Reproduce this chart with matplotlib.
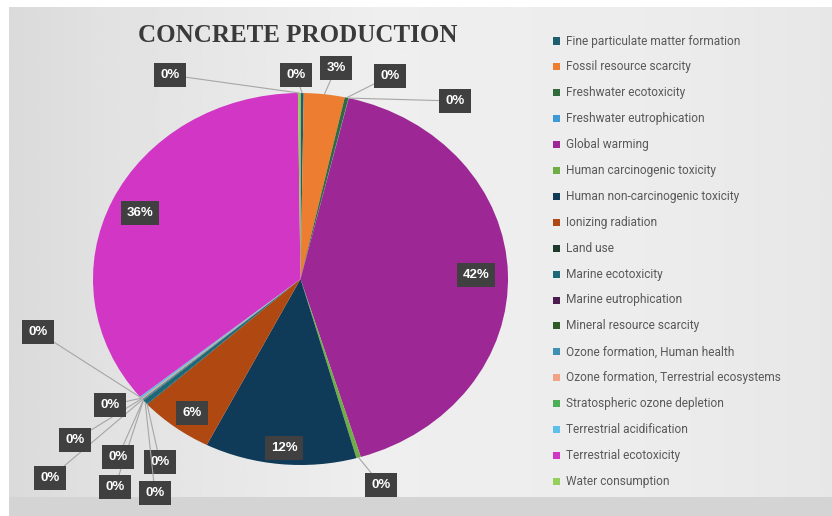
import matplotlib
matplotlib.use('Agg')

import matplotlib.pyplot as plt
import numpy as np
from matplotlib.patches import Rectangle

# impact categories, in drawing order (clockwise from 12 o'clock)
categories = [
    "Fine particulate matter formation",
    "Fossil resource scarcity",
    "Freshwater ecotoxicity",
    "Freshwater eutrophication",
    "Global warming",
    "Human carcinogenic toxicity",
    "Human non-carcinogenic toxicity",
    "Ionizing radiation",
    "Land use",
    "Marine ecotoxicity",
    "Marine eutrophication",
    "Mineral resource scarcity",
    "Ozone formation, Human health",
    "Ozone formation, Terrestrial ecosystems",
    "Stratospheric ozone depletion",
    "Terrestrial acidification",
    "Terrestrial ecotoxicity",
    "Water consumption",
]

# share of each category (%)
shares = [0.25, 3.2, 0.3, 0.02, 41.9, 0.35, 11.9, 5.8, 0.05,
          0.4, 0.01, 0.05, 0.1, 0.1, 0.02, 0.15, 36.0, 0.2]

colors = [
    "#1f5e6e", "#ed7d31", "#2f6b3c", "#3d9ad6", "#9c2795", "#6fae45",
    "#0f3b58", "#b04812", "#1d3a2c", "#1d6878", "#4b1c4d", "#2f5a28",
    "#3f8fb5", "#f2a285", "#4caf55", "#5cc0ea", "#d136c4", "#93cf5a",
]

# label box positions (figure pixels from top-left)
label_pos = [
    (296, 75), (336, 68), (390, 76), (455, 101), (476, 275), (381, 485),
    (284, 448), (192, 413), (160, 462), (155, 493), (115, 487), (118, 457),
    (50, 478), (75, 440), (110, 405), (38, 332), (140, 213), (170, 75),
]
# labels drawn inside their slice, without a leader line
inside = {4, 6, 7, 16}

W, H = 832, 516
fig = plt.figure(figsize=(W / 100, H / 100), dpi=100, facecolor="white")

# grey panel with soft horizontal gradient
fig.patches.append(Rectangle((9 / W, 0), 1 - 9 / W, 1 - 7 / H,
                             transform=fig.transFigure, fc="#d4d4d4", ec="none", zorder=-5))
bg = fig.add_axes([9 / W, 19 / H, (W - 9) / W, (497 - 7) / H], zorder=0)
xs = np.linspace(0, 1, 400)
grad = np.interp(xs, [0, 0.12, 0.45, 0.8, 1], [0.855, 0.885, 0.935, 0.925, 0.905])
bg.imshow(np.tile(grad, (20, 1)), cmap="gray", vmin=0, vmax=1, aspect="auto",
          extent=[0, 1, 0, 1], interpolation="bilinear")
bg.axis("off")

# pie axes, stretched horizontally like the original sheet
cx, cy, rx, ry = 300.5, 279, 207.5, 186
ax = fig.add_axes([(cx - rx) / W, (H - cy - ry) / H, 2 * rx / W, 2 * ry / H], zorder=2)
wedges, _ = ax.pie(shares, colors=colors, startangle=90, counterclock=False,
                   radius=1, wedgeprops=dict(linewidth=0))
ax.set_aspect("auto")
ax.set_xlim(-1, 1)
ax.set_ylim(-1, 1)
ax.axis("off")

total = sum(shares)
for i, w in enumerate(wedges):
    pct = "{:.0f}%".format(shares[i] / total * 100)
    ang = np.deg2rad((w.theta1 + w.theta2) / 2)
    edge = (np.cos(ang), np.sin(ang))
    px, py = label_pos[i]
    arrow = None if i in inside else dict(arrowstyle="-", color="#a6a6a6", lw=0.8,
                                          shrinkA=0, shrinkB=0)
    ax.annotate(pct, xy=edge, xycoords="data", xytext=(px, H - py),
                textcoords="figure pixels", ha="center", va="center",
                color="white", fontsize=9.5, fontweight="bold", family="Liberation Sans",
                bbox=dict(boxstyle="square,pad=0.45", fc="#404040", ec="none"),
                arrowprops=arrow, zorder=5, annotation_clip=False)

fig.text(298 / W, 1 - 36 / H, "CONCRETE PRODUCTION", ha="center", va="center",
         fontsize=18, fontweight="bold", family="Liberation Serif", color="#3a3a3a")

# legend, one row per category
for i, (name, c) in enumerate(zip(categories, colors)):
    y = 1 - (41 + i * 25.9) / H
    fig.patches.append(Rectangle((553 / W, y - 3.5 / H), 7 / W, 7 / H,
                                 transform=fig.transFigure, fc=c, ec="none", zorder=3))
    fig.text(566 / W, y, name, ha="left", va="center", fontsize=8.6,
             family="Roboto", color="#595959")

fig.savefig("out.png", dpi=100, facecolor=fig.get_facecolor())
plt.close(fig)
